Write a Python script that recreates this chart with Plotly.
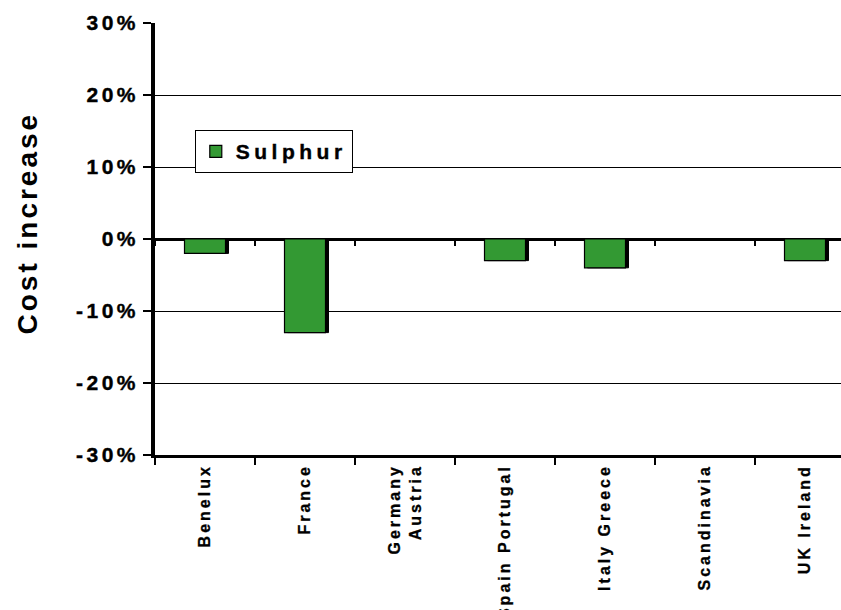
import plotly.graph_objects as go

# Regional cost change for the sulphur scenario
regions = ["Benelux", "France", "Germany<br>Austria", "Spain Portugal",
           "Italy Greece", "Scandinavia", "UK Ireland"]
sulphur = [-2, -13, 0, -3, -4, 0, -3]
y_ticks = [-30, -20, -10, 0, 10, 20, 30]
y_tick_labels = ["-30%", "-20%", "-10%", "0%", "10%", "20%", "30%"]
y_title = "Cost increase"

GREEN = "#339933"
FONT = "Liberation Sans, Arial, sans-serif"
BAR_W = 0.41

fig = go.Figure()

# drop shadow behind each bar
fig.add_trace(go.Bar(
    x=regions, y=sulphur, width=BAR_W, offset=-BAR_W / 2 + 0.03,
    marker=dict(color="black", line=dict(color="black", width=1)),
    showlegend=False, hoverinfo="skip",
))
fig.add_trace(go.Bar(
    x=regions, y=sulphur, name="Sulphur", width=BAR_W, offset=-BAR_W / 2,
    marker=dict(color=GREEN, line=dict(color="black", width=1.2)),
))
# helper trace so the category ticks along the zero line are drawn
fig.add_trace(go.Scatter(
    x=regions, y=[0] * len(regions), xaxis="x2", mode="markers",
    marker=dict(opacity=0), showlegend=False, hoverinfo="skip",
))

x_range = [-0.5, 6.36]

fig.update_layout(
    width=841, height=610,
    margin=dict(l=155, r=0, t=23, b=155),
    paper_bgcolor="white", plot_bgcolor="white",
    barmode="overlay",
    font=dict(family=FONT, color="black"),
    showlegend=True,
    legend=dict(
        x=0.058, y=0.752, xanchor="left", yanchor="top",
        bgcolor="white", bordercolor="black", borderwidth=1,
        font=dict(size=21, family=FONT, weight="bold"),
        itemwidth=30, traceorder="normal",
    ),
    xaxis=dict(
        type="category", categoryorder="array", categoryarray=regions,
        range=x_range, tickson="boundaries", ticks="outside", ticklen=7,
        tickwidth=1.5, tickcolor="black",
        showline=True, linecolor="black", linewidth=2.5,
        showgrid=False, tickangle=-90,
        tickfont=dict(size=16, family=FONT, weight="bold"),
    ),
    xaxis2=dict(
        type="category", categoryorder="array", categoryarray=regions,
        overlaying="x", anchor="free", position=0.5, matches="x",
        tickson="boundaries", ticks="outside", ticklen=6, tickwidth=1.5,
        tickcolor="black", showticklabels=False, showline=False,
        showgrid=False,
    ),
    yaxis=dict(
        range=[-30, 30], tickvals=y_ticks, ticktext=y_tick_labels,
        ticks="outside", ticklen=8, tickwidth=1.5, tickcolor="black",
        showline=True, linecolor="black", linewidth=3.5,
        showgrid=True, gridcolor="black", gridwidth=1,
        zeroline=True, zerolinecolor="black", zerolinewidth=2.5,
        tickfont=dict(size=21, family=FONT, weight="bold"),
        ticklabelstandoff=0,
    ),
)

# vertical axis title, placed a little above the plot centre
fig.add_annotation(
    text=y_title, textangle=-90, showarrow=False,
    xref="paper", yref="paper", x=-0.186, y=0.538,
    xanchor="center", yanchor="middle",
    font=dict(size=28, family=FONT, weight="bold", color="black"),
)

# widen the letter spacing of the chart text, then redraw the legend so
# its box is sized for the wider label
spacing_js = """
var gd = document.getElementById('{plot_id}');
function spread(sel, px, stroke) {
  gd.querySelectorAll(sel).forEach(function (t) {
    t.style.letterSpacing = px;
    t.style.fontWeight = 'bold';
    if (stroke) {
      t.style.stroke = 'black';
      t.style.strokeWidth = stroke;
    }
  });
}
function spreadAll() {
  spread('.ytick text', '3.5px', '0.4px');
  spread('.xtick text', '3px', '0.3px');
  spread('.legendtext', '4.5px', '0.4px');
  spread('.annotation-text', '3px', null);
}
spreadAll();
Plotly.relayout(gd, {'legend.x': 0.058}).then(spreadAll);
"""

fig.write_html("out.html", post_script=spacing_js)
